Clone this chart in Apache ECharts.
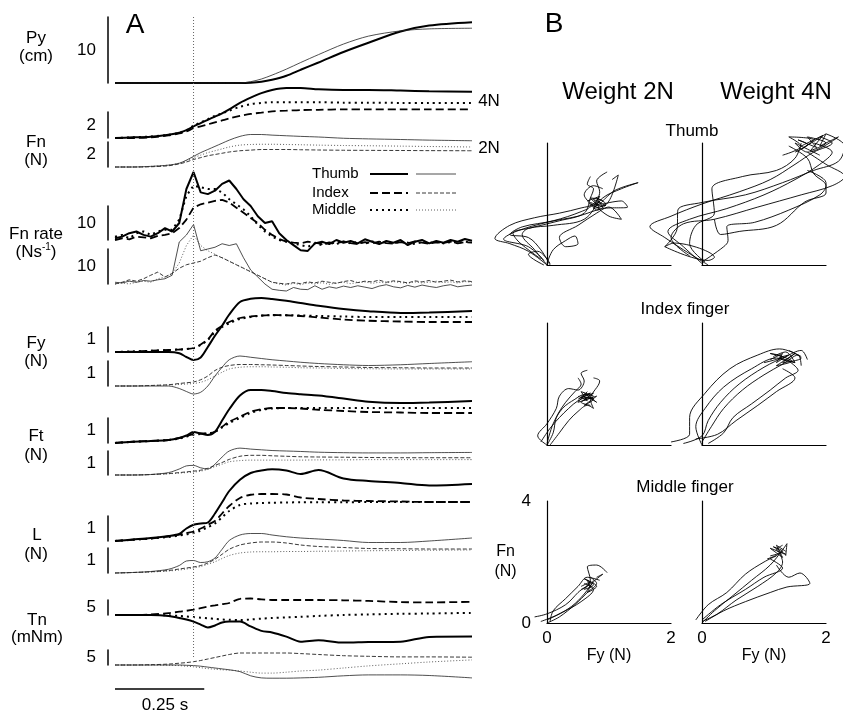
<!DOCTYPE html>
<html><head><meta charset="utf-8">
<script src="https://cdn.jsdelivr.net/npm/echarts@6/dist/echarts.min.js"></script>
<style>html,body{margin:0;padding:0;background:#fff}#c{width:843px;height:713px}</style>
</head><body><div id="c"></div><script>
// ---------------- DATA ----------------
// time base (s) for the smooth traces
const time = [0,0.05,0.10,0.15,0.18,0.20,0.22,0.24,0.26,0.28,0.30,0.32,0.35,0.38,0.41,0.44,0.48,0.52,0.57,0.64,0.71,0.80,0.88,1.0];
// time base (s) for the force-rate traces
const rateTime = [0,0.02,0.04,0.06,0.08,0.10,0.12,0.14,0.16,0.18,0.20,0.22,0.24,0.26,0.28,0.30,0.32,0.34,0.36,0.38,0.40,0.42,0.44,0.46,0.48,0.50,0.52,0.54,0.56,0.58,0.60,0.62,0.64,0.66,0.68,0.70,0.72,0.74,0.76,0.78,0.80,0.82,0.84,0.86,0.88,0.90,0.92,0.94,0.96,0.98,1.0];
const eventTime = 0.22;
const scaleBarSec = 0.25;

// Py (cm)
const py4 = [0,0,0,0,0,0,0,0,0,0,0,0,0,0.05,0.2,0.5,1.1,2.0,3.1,4.7,6.1,7.8,8.7,9.2];
const py2 = [0,0,0,0,0,0,0,0,0,0,0,0,0,0.2,0.6,1.2,2.1,3.1,4.3,5.9,7.1,7.9,8.2,8.3];
// Fn (N)
const fn4Thumb  = [0,0.05,0.1,0.25,0.4,0.6,0.9,1.15,1.4,1.65,1.9,2.2,2.7,3.1,3.45,3.7,3.85,3.85,3.75,3.7,3.7,3.65,3.6,3.55];
const fn4Index  = [0,0,0.05,0.2,0.35,0.5,0.75,0.9,1.05,1.2,1.35,1.5,1.7,1.85,1.95,2.05,2.1,2.15,2.17,2.2,2.2,2.2,2.2,2.2];
const fn4Middle = [0,0.05,0.12,0.25,0.4,0.6,0.95,1.2,1.45,1.7,1.9,2.1,2.4,2.6,2.7,2.75,2.75,2.75,2.75,2.72,2.72,2.7,2.7,2.7];
const fn2Thumb  = [0,0,0.05,0.15,0.3,0.55,0.85,1.15,1.4,1.65,1.9,2.15,2.45,2.6,2.6,2.55,2.5,2.45,2.4,2.3,2.25,2.2,2.15,2.1];
const fn2Index  = [0,0,0.02,0.1,0.25,0.4,0.6,0.75,0.9,1.0,1.1,1.2,1.3,1.35,1.4,1.4,1.4,1.38,1.36,1.34,1.33,1.32,1.31,1.3];
const fn2Middle = [0,0,0.05,0.15,0.3,0.5,0.75,0.95,1.15,1.3,1.45,1.6,1.75,1.8,1.82,1.82,1.8,1.78,1.75,1.72,1.7,1.67,1.64,1.6];
// Fn rate (N/s)
const rate4Thumb  = [0.5,1,2,2.5,1.5,1,2,3.5,2.5,5,15,20,14,13.5,14.5,16.5,17.5,15,12,10,7,5,5.5,2,0,-1.5,-3,-3.2,-1,-0.5,-1.2,0,-0.8,-0.3,-1,0.2,-0.5,-1.2,-0.3,-0.8,0,-1.5,-0.5,0,-1,-0.3,-0.8,0,-0.5,0.3,-0.2];
const rate4Middle = [1,1.5,0.5,2,2.5,1.5,2.5,3,3,6,13,16,15.5,15,15,14,12,10.5,9,7,4.5,2.5,1,0,-0.5,-1,-1.5,-2,-1,-1.5,-0.8,-1.2,-0.5,-1,-0.6,-1.1,-0.4,-0.9,-0.6,-1,-0.5,-0.8,-1.2,-0.6,-0.9,-0.5,-1,-0.6,-0.8,-0.5,-0.7];
const rate4Index  = [0,0.5,0.2,1,0.8,0.5,1.2,1.5,2,3.5,6,9.5,10.5,11,11.5,11.8,11,9.5,8,6.5,5,3,1.5,0.3,-0.5,-0.8,-1,-0.5,-0.8,-1.2,-0.7,-1,-0.4,-0.9,-1.2,-0.6,-1,-0.5,-0.9,-1.1,-0.6,-1,-0.4,-0.8,-1.1,-0.7,-0.9,-0.5,-1,-0.6,-0.8];
const rate2Thumb  = [0.5,0.3,0.8,0.5,1,0.8,1.2,1.5,2.5,12,14,17,9.5,10,10.5,11.5,11,11.5,7.5,4,2,0,-1.5,-1.8,-2,-1,-1.5,-1.6,-0.5,-1.5,-0.8,-1.2,-0.6,-1,-0.5,-0.9,-1.3,-0.6,-0.2,-0.8,-1.1,-0.4,-0.9,-0.3,-0.7,-1,-0.5,-0.2,-0.8,-0.5,-0.3];
const rate2Middle = [0,0.3,0,0.5,0.8,0.5,1.5,2,3,6,11,14,11,9.5,8.5,7.5,6.5,5.5,4.5,3.5,2.5,1.5,0.5,0,-0.3,0.2,-0.2,0.3,0,0.4,-0.1,0.3,0.5,0.1,0.4,0.6,0.2,0.5,0.3,0.7,0.4,0.2,0.6,0.3,0.5,0.8,0.4,0.6,0.3,0.7,0.5];
const rate2Index  = [0,0.5,1.2,0.8,1.5,2.5,3.4,2,3,4.5,5.5,6,6.5,7.5,8.3,7.5,6.5,5.5,4.5,3.5,2.5,1.5,0.5,0.2,0,0.4,0.1,0.6,0.3,0.8,0.5,0.2,0.7,1,0.4,0.8,0.6,1.1,0.5,0.9,0.7,0.3,0.9,0.6,1,0.5,0.8,1.1,0.6,0.9,0.7];
// Fy (N)
const fy4Thumb  = [0,0,0,0,-0.05,-0.2,-0.32,-0.22,0.2,0.65,1.05,1.5,2.0,2.13,2.16,2.12,2.05,1.96,1.85,1.72,1.63,1.56,1.58,1.64];
const fy4Index  = [0,0.02,0.05,0.08,0.1,0.12,0.16,0.3,0.5,0.85,1.05,1.2,1.36,1.42,1.46,1.48,1.47,1.44,1.38,1.3,1.25,1.22,1.2,1.2];
const fy4Middle = [0,0.02,0.05,0.08,0.1,0.12,0.15,0.28,0.48,0.8,1.0,1.15,1.32,1.4,1.45,1.47,1.47,1.46,1.44,1.42,1.4,1.4,1.4,1.4];
const fy2Thumb  = [0,0,0,0,-0.1,-0.22,-0.32,-0.25,0,0.4,0.75,1.05,1.2,1.15,1.1,1.05,1.0,0.95,0.9,0.85,0.82,0.85,0.9,0.97];
const fy2Index  = [0,0,0.02,0.05,0.1,0.13,0.16,0.25,0.4,0.62,0.75,0.82,0.86,0.86,0.85,0.84,0.82,0.8,0.78,0.76,0.74,0.73,0.72,0.72];
const fy2Middle = [0,0,0.02,0.04,0.06,0.08,0.1,0.15,0.25,0.4,0.55,0.68,0.75,0.77,0.77,0.76,0.75,0.73,0.72,0.7,0.69,0.68,0.68,0.68];
// Ft (N)
const ft4Thumb  = [0,0.05,0.08,0.12,0.2,0.3,0.44,0.38,0.32,0.45,0.9,1.35,1.9,2.12,2.12,2.08,2.0,1.95,1.9,1.78,1.65,1.6,1.62,1.68];
const ft4Index  = [0,0.05,0.08,0.12,0.2,0.28,0.36,0.38,0.38,0.45,0.65,0.85,1.05,1.25,1.35,1.4,1.4,1.38,1.33,1.28,1.24,1.22,1.2,1.2];
const ft4Middle = [0,0.05,0.08,0.12,0.18,0.25,0.33,0.36,0.38,0.45,0.62,0.8,1.0,1.2,1.32,1.38,1.4,1.4,1.4,1.4,1.4,1.4,1.4,1.4];
const ft2Thumb  = [0,0,0.02,0.1,0.25,0.38,0.4,0.3,0.25,0.45,0.75,1.0,1.12,1.08,1.05,1.02,1.0,0.98,0.95,0.93,0.92,0.92,0.93,0.94];
const ft2Index  = [0,0,0.02,0.06,0.1,0.13,0.16,0.2,0.28,0.4,0.52,0.65,0.78,0.82,0.82,0.8,0.78,0.76,0.75,0.74,0.73,0.72,0.72,0.72];
const ft2Middle = [0,0,0.02,0.05,0.08,0.1,0.12,0.16,0.24,0.35,0.45,0.55,0.6,0.62,0.62,0.62,0.62,0.62,0.63,0.63,0.64,0.64,0.64,0.64];
// L (N)
const l4Thumb  = [0,0.06,0.12,0.2,0.28,0.5,0.65,0.7,0.74,1.1,1.55,2.0,2.45,2.72,2.82,2.87,2.82,2.68,2.84,2.5,2.4,2.32,2.22,2.28];
const l4Index  = [0,0.05,0.1,0.18,0.26,0.32,0.38,0.5,0.65,0.8,1.1,1.4,1.72,1.85,1.88,1.88,1.86,1.74,1.68,1.62,1.6,1.58,1.56,1.56];
const l4Middle = [0,0.05,0.1,0.16,0.22,0.27,0.32,0.42,0.55,0.7,0.95,1.2,1.44,1.5,1.52,1.53,1.54,1.55,1.55,1.55,1.56,1.56,1.56,1.56];
const l2Thumb  = [0,0.02,0.06,0.15,0.3,0.48,0.5,0.42,0.45,0.6,0.95,1.3,1.52,1.58,1.58,1.52,1.45,1.4,1.36,1.3,1.22,1.22,1.28,1.4];
const l2Index  = [0,0.02,0.05,0.1,0.16,0.2,0.24,0.3,0.4,0.55,0.75,0.95,1.12,1.2,1.24,1.24,1.2,1.12,1.06,1.02,0.98,0.97,0.96,0.96];
const l2Middle = [0,0.02,0.04,0.08,0.12,0.16,0.2,0.26,0.35,0.45,0.58,0.7,0.8,0.84,0.85,0.85,0.86,0.86,0.87,0.88,0.89,0.9,0.91,0.92];
// Tn (mNm)
const tn4Thumb  = [0,0,0,-0.3,-1.0,-1.5,-2.2,-3.2,-4.2,-3.5,-2.5,-2.2,-2.2,-3.8,-5.3,-5.8,-7.2,-8.9,-8.4,-9.2,-9.0,-8.9,-7.3,-7.2];
const tn4Index  = [0,0,0.2,0.6,1.1,1.4,1.8,2.3,2.8,3.2,3.6,4.0,5.4,5.5,5.2,5.0,5.0,5.0,5.0,4.9,4.7,4.3,4.2,4.4];
const tn4Middle = [0,0,0,-0.1,-0.3,-0.5,-0.7,-0.9,-1.1,-1.3,-1.5,-1.6,-1.7,-1.5,-1.2,-1.0,-0.8,-0.6,-0.3,0,0.2,0.4,0.5,0.7];
const tn2Thumb  = [0,0,0,0,0,-0.1,-0.2,-0.4,-0.7,-1.0,-1.3,-1.6,-2.2,-3.6,-4.3,-4.4,-4.4,-4.3,-4.1,-3.6,-3.3,-3.3,-3.5,-4.3];
const tn2Index  = [0,0,0.1,0.3,0.6,0.8,1.1,1.5,2.0,2.5,3.0,3.5,4.0,4.0,4.0,4.0,4.0,3.8,3.5,3.1,2.9,2.7,2.7,2.6];
const tn2Middle = [0,0,0,-0.1,-0.2,-0.4,-0.6,-0.9,-1.2,-1.4,-1.6,-1.7,-2.0,-2.4,-2.7,-2.7,-2.4,-2.0,-1.7,-1.0,-0.3,0.4,1.0,1.7];

// Panel B: Fn vs Fy trajectories, [Fy (N), Fn (N)] per trial
const thumb2N = [
  [[0,0],[-0.3,0.45],[-0.6,0.7],[-0.84,0.87],[-0.6,1.3],[-0.2,1.55],[0.2,1.7],[0.55,1.87],[0.75,2.0],[0.85,2.4],[0.8,2.75],[0.97,3.05]],
  [[-0.05,0.15],[-0.3,0.6],[-0.7,0.85],[-0.5,1.1],[0,1.4],[0.5,1.6],[0.9,1.85],[1.3,1.9],[1.2,2.1],[0.9,2.0]],
  [[0,0],[-0.2,0.5],[-0.4,1.0],[-0.3,1.2],[0.1,1.3],[0.6,1.5],[0.9,2.2],[1.2,2.5],[1.47,2.7],[1.1,2.45],[0.9,2.1]],
  [[0,0.05],[0.1,0.5],[0.3,0.8],[0.45,0.95],[0.5,0.7],[0.3,0.6],[0.2,0.9],[0.5,1.3],[0.8,1.7],[1.0,1.9],[1.2,1.5],[1.0,1.6],[0.8,1.9]],
  [[-0.1,0.2],[-0.45,0.75],[-0.55,1.05],[-0.3,1.2],[0.2,1.45],[0.6,1.7],[0.7,2.2],[0.75,2.5],[0.65,2.65],[0.7,2.9]],
  [[0.05,0],[-0.1,0.5],[-0.3,0.9],[-0.6,1.0],[-0.4,1.25],[0.1,1.45],[0.55,1.75],[0.7,1.95],[0.6,2.3],[0.75,2.6],[0.9,2.5]],
  [[-0.05,0],[-0.3,0.35],[-0.15,0.45],[0.05,0.05]],
  [[0.7,1.9],[0.85,2.1],[0.75,1.85],[0.95,2.0],[0.8,2.2],[0.9,1.9],[0.7,2.05],[0.8,1.8],[1.0,2.1],[1.15,2.95],[1.05,2.8]],
  [[0.7,2.0],[0.85,1.85],[0.75,2.15],[0.95,1.95],[0.8,2.0],[0.7,2.2],[0.9,2.1],[0.75,1.9],[0.85,2.25],[0.65,2.1]]
];
const thumb4N = [
  [[0.1,0],[-0.3,0.5],[-0.6,0.9],[-0.84,1.26],[-0.5,1.6],[0,2.0],[0.6,2.4],[1.1,2.8],[1.5,3.3],[1.8,3.7],[2.1,4.0],[1.9,4.2]],
  [[-0.6,0.6],[-0.4,1.2],[-0.39,1.8],[0,2.05],[0.7,2.3],[1.3,2.7],[1.8,3.1],[2.2,3.4],[2.3,3.9],[2.0,4.3]],
  [[0.05,0.1],[-0.2,0.7],[-0.1,1.3],[0.2,1.7],[0.16,2.5],[0.65,2.9],[1.2,3.1],[1.5,3.5],[1.6,4.0]],
  [[0,0.1],[0.35,0.6],[0.42,0.8],[0.4,1.25],[0.85,1.4],[1.4,1.8],[1.9,2.3],[2.0,2.6],[1.8,3.0],[1.7,3.5],[1.4,3.9]],
  [[-0.2,0.3],[-0.5,0.9],[-0.3,1.35],[0.2,1.5],[0.9,1.9],[1.6,2.3],[2.1,2.6],[2.3,2.9],[2.0,3.3],[1.7,3.7]],
  [[0,0.05],[-0.3,0.6],[-0.55,1.1],[-0.2,1.5],[0.4,1.85],[1.0,2.3],[1.5,2.8],[1.9,3.3],[2.1,3.7],[1.8,4.0]],
  [[0.2,1.5],[0.3,1.0],[0.6,1.1],[1.2,1.3],[1.66,2.07],[2.0,2.36],[2.0,2.7],[1.7,3.1]],
  [[-0.6,0.6],[0.1,0.15],[0.2,0.25],[-0.45,0.72],[-0.6,0.6]],
  [[1.3,3.6],[1.6,3.9],[1.4,4.2],[1.8,4.1],[1.6,3.8],[2.0,4.3],[1.9,3.9],[2.2,4.2],[1.7,3.7],[1.5,4.0],[1.9,3.6]],
  [[1.5,3.7],[1.7,3.95],[1.55,4.1],[1.85,3.85],[1.7,4.2],[2.0,4.0],[1.75,3.75],[1.95,4.25],[1.6,3.9]]
];
const index2N = [
  [[0,0],[-0.15,0.3],[0,0.7],[0.15,1.2],[0.2,1.6],[0.35,1.85],[0.5,1.8],[0.6,2.1],[0.55,2.35],[0.65,2.45]],
  [[0.05,0],[0.2,0.4],[0.35,0.8],[0.5,1.1],[0.65,1.3],[0.75,1.2],[0.7,1.5],[0.85,2.1],[0.75,2.2]],
  [[-0.1,0.1],[0.05,0.55],[0.2,0.9],[0.35,1.2],[0.5,1.45],[0.65,1.55],[0.8,1.4],[0.6,1.7]],
  [[0,0.05],[0.1,0.7],[0.25,1.2],[0.45,1.5],[0.6,1.65],[0.75,1.6],[0.55,1.4],[0.7,1.3]],
  [[0,0],[0.1,0.4],[0.15,0.9],[0.3,1.4],[0.45,1.75],[0.55,2.0],[0.5,2.2]],
  [[0.5,1.5],[0.7,1.7],[0.55,1.6],[0.75,1.5],[0.6,1.3],[0.8,1.6],[0.5,1.4],[0.65,1.75]],
  [[0.5,1.6],[0.65,1.45],[0.55,1.75],[0.7,1.6],[0.6,1.5],[0.75,1.7],[0.55,1.55]]
];
const index4N = [
  [[-0.5,0.1],[-0.2,0.35],[-0.2,0.9],[0.05,1.7],[0.45,2.5],[0.9,2.95],[1.25,3.15],[1.45,3.05],[1.6,2.9]],
  [[0,0],[-0.1,0.6],[0.05,1.2],[0.35,1.9],[0.8,2.5],[1.2,2.85],[1.5,2.7]],
  [[0.1,0.05],[0.35,0.4],[0.5,0.9],[0.8,1.35],[1.1,1.8],[1.35,2.2],[1.55,2.45],[1.4,2.75]],
  [[0,0.1],[0.15,0.6],[0.35,1.2],[0.65,1.8],[1.0,2.3],[1.3,2.65],[1.55,2.95],[1.6,2.6]],
  [[-0.1,0.2],[0.25,0.35],[0.55,0.8],[0.9,1.3],[1.2,1.75],[1.5,2.2],[1.3,2.5]],
  [[-0.3,0.05],[0,0.3],[0.1,0.8],[0.3,1.4],[0.6,2.0],[1.0,2.55],[1.35,2.9],[1.6,3.1],[1.7,2.8]],
  [[1.0,2.7],[1.3,2.9],[1.1,3.0],[1.45,2.75],[1.2,2.6],[1.5,3.0],[1.3,2.7],[1.6,2.85],[1.4,3.1]],
  [[1.1,2.8],[1.3,3.0],[1.2,2.7],[1.4,2.95],[1.25,2.85],[1.5,2.7],[1.35,3.05],[1.15,2.9]]
];
const middle2N = [
  [[-0.2,0.2],[0,0.3],[0.3,0.6],[0.5,1.0],[0.7,1.4],[0.65,1.84],[0.8,1.9],[0.97,1.65]],
  [[0,0],[0.2,0.2],[0.45,0.6],[0.65,1.0],[0.8,1.3],[0.7,1.5]],
  [[0.05,0.05],[0.1,0.4],[0.3,0.8],[0.5,1.2],[0.65,1.5],[0.85,1.4]],
  [[0,0.1],[0.25,0.35],[0.55,0.7],[0.75,1.1],[0.6,1.3]],
  [[-0.1,0.05],[0.15,0.25],[0.4,0.55],[0.6,0.95],[0.75,1.35],[0.9,1.6],[0.8,1.5]],
  [[0.55,1.1],[0.7,1.3],[0.6,1.45],[0.8,1.2],[0.65,1.0],[0.75,1.4]],
  [[0.55,1.2],[0.7,1.35],[0.6,1.1],[0.75,1.25],[0.65,1.4],[0.7,1.15]]
];
const middle4N = [
  [[0,0],[0.2,0.4],[0.5,0.9],[0.8,1.4],[1.1,1.9],[1.3,2.4],[1.37,2.6],[1.35,2.2]],
  [[-0.1,0.1],[0.1,0.6],[0.4,1.0],[0.7,1.6],[1.0,2.0],[1.2,2.2]],
  [[0.05,0.05],[0.35,0.4],[0.7,0.7],[1.1,1.0],[1.37,1.18],[1.74,1.3],[1.58,1.64],[1.4,1.5],[1.2,1.9]],
  [[0,0.1],[0.3,0.6],[0.7,1.1],[1.0,1.5],[1.3,1.8],[1.1,2.1]],
  [[0,0.05],[0.25,0.3],[0.55,0.75],[0.9,1.2],[1.2,1.65],[1.3,2.0],[1.25,2.3]],
  [[1.05,2.1],[1.25,2.3],[1.1,2.45],[1.3,2.15],[1.2,2.55],[1.35,2.35]],
  [[1.1,2.2],[1.3,2.35],[1.15,2.5],[1.35,2.25],[1.2,2.4],[1.3,2.55]]
];

// ---------------- LAYOUT / STYLE ----------------
const FONT = '"Liberation Sans", Arial, Helvetica, sans-serif';
const A_LEFT = 115, A_WIDTH = 357;
const STY = {
  thick:   {color:'#000', width:2},
  dash:    {color:'#000', width:1.8, type:[8,4]},
  dot:     {color:'#000', width:2, type:[2,4]},
  thin:    {color:'#222', width:0.8},
  thinDash:{color:'#222', width:0.9, type:[4,2]},
  thinDot: {color:'#333', width:0.8, type:[1,2]}
};
const panelA = [
  {top:17,  h:66, bar:10, name:'10', tb:time, tr:[[py4,'thick'],[py2,'thin']]},
  {top:112, h:26, bar:2,  name:'2',  tb:time, tr:[[fn4Thumb,'thick'],[fn4Index,'dash'],[fn4Middle,'dot']]},
  {top:142, h:25, bar:2,  name:'2',  tb:time, tr:[[fn2Thumb,'thin'],[fn2Index,'thinDash'],[fn2Middle,'thinDot']]},
  {top:206, h:34, bar:10, name:'10', tb:rateTime, tr:[[rate4Thumb,'thick'],[rate4Index,'dash'],[rate4Middle,'dot']]},
  {top:249, h:35, bar:10, name:'10', tb:rateTime, tr:[[rate2Thumb,'thin'],[rate2Index,'thinDash'],[rate2Middle,'thinDot']]},
  {top:327, h:25, bar:1,  name:'1',  tb:time, tr:[[fy4Thumb,'thick'],[fy4Index,'dash'],[fy4Middle,'dot']]},
  {top:361, h:25, bar:1,  name:'1',  tb:time, tr:[[fy2Thumb,'thin'],[fy2Index,'thinDash'],[fy2Middle,'thinDot']]},
  {top:418, h:25, bar:1,  name:'1',  tb:time, tr:[[ft4Thumb,'thick'],[ft4Index,'dash'],[ft4Middle,'dot']]},
  {top:451, h:24, bar:1,  name:'1',  tb:time, tr:[[ft2Thumb,'thin'],[ft2Index,'thinDash'],[ft2Middle,'thinDot']]},
  {top:516, h:25, bar:1,  name:'1',  tb:time, tr:[[l4Thumb,'thick'],[l4Index,'dash'],[l4Middle,'dot']]},
  {top:548, h:25, bar:1,  name:'1',  tb:time, tr:[[l2Thumb,'thin'],[l2Index,'thinDash'],[l2Middle,'thinDot']]},
  {top:600, h:15, bar:5,  name:'5',  tb:time, tr:[[tn4Thumb,'thick'],[tn4Index,'dash'],[tn4Middle,'dot']]},
  {top:650, h:15, bar:5,  name:'5',  tb:time, tr:[[tn2Thumb,'thin'],[tn2Index,'thinDash'],[tn2Middle,'thinDot']]}
];

const grids=[], xAxes=[], yAxes=[], series=[];
function addGrid(g, xa, ya){
  grids.push(Object.assign({outerBoundsMode:'none', containLabel:false, show:false}, g));
  const gi = grids.length-1;
  xAxes.push(Object.assign({gridIndex:gi, type:'value', splitLine:{show:false}}, xa));
  yAxes.push(Object.assign({gridIndex:gi, type:'value', splitLine:{show:false}}, ya));
  return gi;
}
function addLine(gi, data, style, smooth){
  series.push({type:'line', xAxisIndex:gi, yAxisIndex:gi, data:data, showSymbol:false, symbol:'none',
    clip:false, smooth:smooth||0, lineStyle:Object.assign({cap:'butt'}, style), silent:true, animation:false});
}

panelA.forEach(p=>{
  const gi = addGrid({left:A_LEFT, width:A_WIDTH, top:p.top, height:p.h},
    {min:0, max:1, show:false},
    {min:0, max:p.bar, offset:7, axisLine:{show:true, onZero:false, lineStyle:{color:'#000', width:1.5}},
     axisTick:{show:false}, axisLabel:{show:false}, name:p.name, nameLocation:'middle', nameRotate:0, nameGap:12,
     nameTextStyle:{fontSize:17, fontFamily:FONT, color:'#000', align:'right', verticalAlign:'middle'}});
  p.tr.forEach(([vals, st])=>{
    addLine(gi, p.tb.map((t,i)=>[t, vals[i]]), STY[st], p.tb===rateTime ? 0 : 0.3);
  });
});

// event (dotted vertical) line
const gEv = addGrid({left:A_LEFT, width:A_WIDTH, top:15, height:642}, {min:0, max:1, show:false}, {min:0, max:1, show:false});
addLine(gEv, [[eventTime,0],[eventTime,1]], {color:'#666', width:1, type:[1,2]});
// time scale bar
const gSb = addGrid({left:A_LEFT, width:A_WIDTH, top:679, height:10}, {min:0, max:1, show:false}, {min:0, max:1, show:false});
addLine(gSb, [[0,0],[scaleBarSec,0]], {color:'#000', width:1.5});

// Panel B
const B_W = 124, B_H = 122, PX_X = B_W/2, PX_Y = B_H/4;
const panelB = [
  {left:547, top:143, d:thumb2N,  xl:false, yl:false},
  {left:702, top:143, d:thumb4N,  xl:false, yl:false},
  {left:547, top:323, d:index2N,  xl:false, yl:false},
  {left:702, top:323, d:index4N,  xl:false, yl:false},
  {left:547, top:501, d:middle2N, xl:true,  yl:true},
  {left:702, top:501, d:middle4N, xl:true,  yl:false}
];
const axTxt = {fontSize:17, fontFamily:FONT, color:'#000'};
panelB.forEach(p=>{
  // visible axes: Fy 0..2 N, Fn 0..4 N
  addGrid({left:p.left, top:p.top, width:B_W, height:B_H},
    {min:0, max:2, interval:2, axisLine:{show:true, onZero:false, lineStyle:{color:'#000', width:1.2}}, axisTick:{show:false},
     axisLabel:Object.assign({show:p.xl, margin:7}, axTxt),
     name:p.xl?'Fy (N)':'', nameLocation:'middle', nameGap:24, nameTextStyle:{fontSize:16, fontFamily:FONT, color:'#000'}},
    {min:0, max:4, interval:4, axisLine:{show:true, onZero:false, lineStyle:{color:'#000', width:1.2}}, axisTick:{show:false},
     axisLabel:Object.assign({show:p.yl, margin:16}, axTxt),
     name:p.yl?'Fn\n(N)':'', nameLocation:'middle', nameRotate:0, nameGap:28,
     nameTextStyle:{fontSize:16, fontFamily:FONT, color:'#000', align:'center', lineHeight:20}});
  // same scale, wider range for the trajectories (negative Fy)
  const xMin=-1, xMax=2.5, yMin=-0.6, yMax=4.6;
  const gt = addGrid({left:p.left + xMin*PX_X, top:p.top - (yMax-4)*PX_Y, width:(xMax-xMin)*PX_X, height:(yMax-yMin)*PX_Y},
    {min:xMin, max:xMax, show:false}, {min:yMin, max:yMax, show:false});
  p.d.forEach(trial=> addLine(gt, trial, {color:'#000', width:0.9}, 0.35));
});

// ---------------- TEXT ----------------
function txt(x,y,text,size,align){
  return {type:'text', x:x, y:y, silent:true,
    style:{text:text, font:size+'px '+FONT, fill:'#000', textAlign:align||'center', textVerticalAlign:'middle', align:align||'center', verticalAlign:'middle'}};
}
const graphics = [
  txt(135,25,'A',28), txt(554,24,'B',28),
  txt(36,38,'Py',17), txt(36,56,'(cm)',17),
  txt(36,142,'Fn',17), txt(36,160,'(N)',17),
  txt(36,234,'Fn rate',17),
  {type:'text', x:36, y:252, silent:true, style:{text:'{n|(Ns}{s|-1}{n|)}', textAlign:'center', textVerticalAlign:'middle', align:'center', verticalAlign:'middle',
     rich:{n:{fontSize:17, fontFamily:FONT, fill:'#000', color:'#000', lineHeight:20}, s:{fontSize:10, fontFamily:FONT, color:'#000', fill:'#000', verticalAlign:'top', lineHeight:20, padding:[0,0,8,0]}}}},
  txt(36,343,'Fy',17), txt(36,361,'(N)',17),
  txt(36,436,'Ft',17), txt(36,455,'(N)',17),
  txt(37,535,'L',17), txt(36,554,'(N)',17),
  txt(37,620,'Tn',17), txt(37,637,'(mNm)',17),
  txt(489,101,'4N',17), txt(489,148,'2N',17),
  txt(165,705,'0.25 s',17),
  txt(312,174,'Thumb',15,'left'), txt(312,193,'Index',15,'left'), txt(312,210,'Middle',15,'left'),
  {type:'line', silent:true, shape:{x1:370,y1:174,x2:408,y2:174}, style:{stroke:'#000', lineWidth:2}},
  {type:'line', silent:true, shape:{x1:416,y1:174,x2:456,y2:174}, style:{stroke:'#222', lineWidth:0.8}},
  {type:'line', silent:true, shape:{x1:370,y1:193,x2:408,y2:193}, style:{stroke:'#000', lineWidth:1.8, lineDash:[8,4]}},
  {type:'line', silent:true, shape:{x1:416,y1:193,x2:456,y2:193}, style:{stroke:'#222', lineWidth:0.9, lineDash:[4,2]}},
  {type:'line', silent:true, shape:{x1:370,y1:210,x2:408,y2:210}, style:{stroke:'#000', lineWidth:2, lineDash:[2,4]}},
  {type:'line', silent:true, shape:{x1:416,y1:210,x2:456,y2:210}, style:{stroke:'#333', lineWidth:0.8, lineDash:[1,2]}},
  txt(618,92,'Weight 2N',24), txt(776,92,'Weight 4N',24),
  txt(692,131,'Thumb',17), txt(685,309,'Index finger',17), txt(685,487,'Middle finger',17)
];

const chart = echarts.init(document.getElementById('c'), null, {renderer:'canvas'});
chart.setOption({
  backgroundColor:'#fff', animation:false,
  grid:grids, xAxis:xAxes, yAxis:yAxes, series:series, graphic:graphics
});
</script></body></html>
